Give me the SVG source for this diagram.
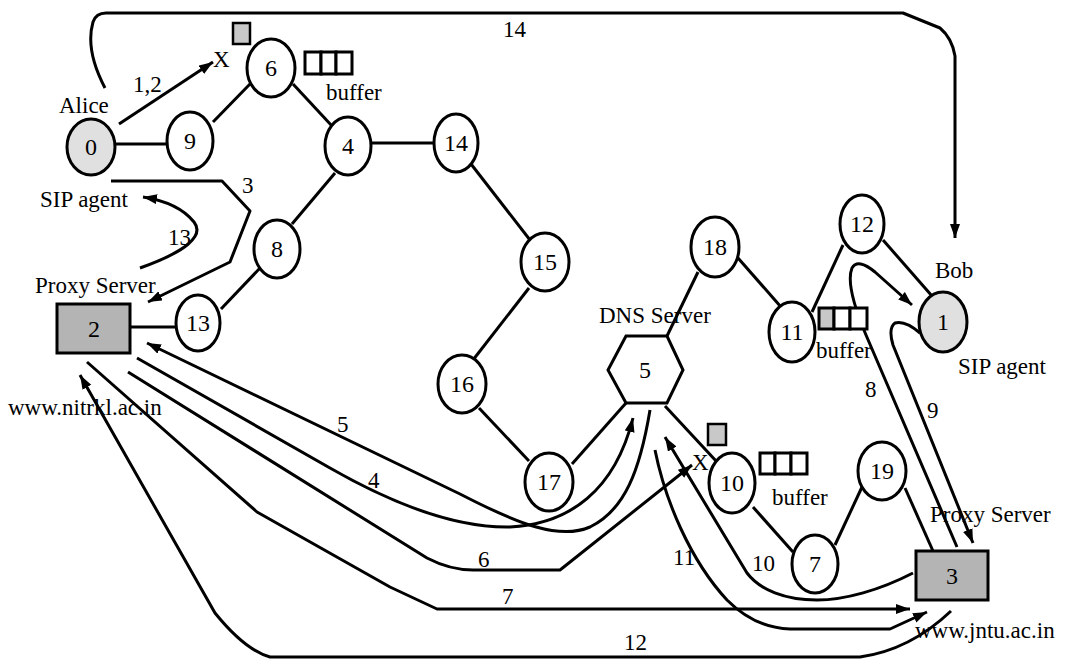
<svg xmlns="http://www.w3.org/2000/svg" width="1066" height="659" viewBox="0 0 1066 659">
  <style>
    .node ellipse, .node rect, .node polygon { stroke: #000; stroke-width: 3; fill: #fff; }
    .node .agent { fill: #e0e0e0; }
    .node .proxy { fill: #b4b4b4; }
    .num { font-family: "Liberation Serif", "Times New Roman", serif; font-size: 24px; text-anchor: middle; fill: #000; }
    .lbl { font-family: "Liberation Serif", "Times New Roman", serif; font-size: 23px; fill: #000; }
    .link { stroke: #000; stroke-width: 3; fill: none; }
    .msg { stroke: #000; stroke-width: 3; fill: none; stroke-linejoin: round; }
    .arr { marker-end: url(#head); }
    .buf rect { fill: #fff; stroke: #000; stroke-width: 3; }
    .pkt { fill: #c8c8c8; stroke: #000; stroke-width: 2.5; }
  </style>
  <defs>
    <marker id="head" markerUnits="userSpaceOnUse" markerWidth="16" markerHeight="12" refX="14" refY="5" orient="auto">
      <path d="M0,0 L14,5 L0,10 z" fill="#000"/>
    </marker>
  </defs>

  <!-- physical links between routers -->
  <g id="links">
    <line class="link" x1="115" y1="144" x2="167" y2="144"/>
    <line class="link" x1="213" y1="122" x2="250" y2="84"/>
    <line class="link" x1="293" y1="84" x2="332" y2="126"/>
    <line class="link" x1="372" y1="143" x2="434" y2="143"/>
    <line class="link" x1="335" y1="173" x2="292" y2="224"/>
    <line class="link" x1="260" y1="268" x2="221" y2="309"/>
    <line class="link" x1="130" y1="327" x2="176" y2="327"/>
    <line class="link" x1="471" y1="164" x2="530" y2="240"/>
    <line class="link" x1="529" y1="288" x2="473" y2="360"/>
    <line class="link" x1="479" y1="408" x2="529" y2="461"/>
    <line class="link" x1="572" y1="464" x2="626" y2="403"/>
    <line class="link" x1="667" y1="336" x2="698" y2="272"/>
    <line class="link" x1="738" y1="258" x2="781" y2="307"/>
    <line class="link" x1="812" y1="312" x2="843" y2="245"/>
    <line class="link" x1="883" y1="240" x2="932" y2="296"/>
    <line class="link" x1="665" y1="406" x2="717" y2="462"/>
    <line class="link" x1="753" y1="507" x2="793" y2="552"/>
    <line class="link" x1="835" y1="545" x2="862" y2="487"/>
    <line class="link" x1="905" y1="488" x2="933" y2="551"/>
  </g>

  <!-- signalling message paths -->
  <g id="connectors">
    <path class="msg arr" d="M119,124 L213,62"/>
    <path class="msg arr" d="M111,181 L222,181 L250,211 L230,262 L148,302"/>
    <path class="msg arr" d="M140,268 C185,252 205,236 194,222 C182,207 162,200 143,197"/>
    <path class="msg arr" d="M105,88 Q85,50 93,22 Q96,13 106,13 L903,13 L940,28 Q952,38 955,56 L955,238"/>
    <path class="msg arr" d="M650,410 C640,470 625,510 590,527 C560,540 520,525 460,494 L147,343"/>
    <path class="msg arr" d="M137,358 L330,468 C400,508 460,528 510,527 C570,524 615,490 633,418"/>
    <path class="msg arr" d="M128,372 L427,558 Q450,570 473,570 L560,570 L692,465"/>
    <path class="msg arr" d="M87,362 L257,512 L390,587 L437,609 L910,609"/>
    <path class="msg arr" d="M913,573 C880,590 845,600 817,600 C785,600 760,590 747,573 L665,437"/>
    <path class="msg arr" d="M655,450 C665,500 690,560 727,600 Q755,628 790,629 L890,629 L927,612"/>
    <path class="msg arr" d="M951,611 Q910,650 860,657 L270,657 Q245,650 215,613 L80,375"/>
    <path class="msg arr" d="M957,547 L866,335 Q845,285 852,268 Q858,258 875,272 L912,305"/>
    <path class="msg arr" d="M920,333 Q905,320 895,323 Q888,328 893,345 L973,543"/>
  </g>

  <!-- nodes -->
  <g id="n0" class="node"><ellipse class="agent" cx="91" cy="147" rx="24" ry="28"/><text class="num" x="91" y="155">0</text></g>
  <g id="n1" class="node"><ellipse class="agent" cx="943" cy="322" rx="24" ry="30"/><text class="num" x="943" y="330">1</text></g>
  <g id="n2" class="node"><rect class="proxy" x="57" y="304" width="73" height="49"/><text class="num" x="94" y="337">2</text></g>
  <g id="n3" class="node"><rect class="proxy" x="916" y="551" width="72" height="49"/><text class="num" x="952" y="584">3</text></g>
  <g id="n4" class="node"><ellipse cx="348" cy="146" rx="23" ry="29"/><text class="num" x="348" y="154">4</text></g>
  <g id="n5" class="node"><polygon points="626,336 667,336 683,370 667,403 626,403 608,370"/><text class="num" x="645" y="378">5</text></g>
  <g id="n6" class="node"><ellipse cx="271" cy="68" rx="24" ry="29"/><text class="num" x="271" y="76">6</text></g>
  <g id="n7" class="node"><ellipse cx="815" cy="564" rx="23" ry="29"/><text class="num" x="815" y="572">7</text></g>
  <g id="n8" class="node"><ellipse cx="277" cy="249" rx="23" ry="29"/><text class="num" x="277" y="257">8</text></g>
  <g id="n9" class="node"><ellipse cx="190" cy="141" rx="23" ry="29"/><text class="num" x="190" y="149">9</text></g>
  <g id="n10" class="node"><ellipse cx="732" cy="483" rx="23" ry="30"/><text class="num" x="732" y="491">10</text></g>
  <g id="n11" class="node"><ellipse cx="792" cy="332" rx="23" ry="30"/><text class="num" x="792" y="340">11</text></g>
  <g id="n12" class="node"><ellipse cx="862" cy="224" rx="22" ry="29"/><text class="num" x="862" y="232">12</text></g>
  <g id="n13" class="node"><ellipse cx="198" cy="323" rx="22" ry="28"/><text class="num" x="198" y="331">13</text></g>
  <g id="n14" class="node"><ellipse cx="456" cy="143" rx="22" ry="29"/><text class="num" x="456" y="151">14</text></g>
  <g id="n15" class="node"><ellipse cx="545" cy="262" rx="24" ry="29"/><text class="num" x="545" y="270">15</text></g>
  <g id="n16" class="node"><ellipse cx="462" cy="384" rx="24" ry="29"/><text class="num" x="462" y="392">16</text></g>
  <g id="n17" class="node"><ellipse cx="549" cy="482" rx="24" ry="29"/><text class="num" x="549" y="490">17</text></g>
  <g id="n18" class="node"><ellipse cx="715" cy="247" rx="24" ry="30"/><text class="num" x="715" y="255">18</text></g>
  <g id="n19" class="node"><ellipse cx="882" cy="471" rx="24" ry="29"/><text class="num" x="882" y="479">19</text></g>

  <!-- router buffers and dropped packets -->
  <g id="buffer6" class="buf">
    <rect x="305" y="52" width="16" height="22"/><rect x="321" y="52" width="15" height="22"/><rect x="336" y="52" width="16" height="22"/>
  </g>
  <g id="buffer11" class="buf">
    <rect x="819" y="308" width="15" height="21" style="fill:#c8c8c8"/><rect x="834" y="308" width="16" height="21"/><rect x="850" y="308" width="17" height="21"/>
  </g>
  <g id="buffer10" class="buf">
    <rect x="760" y="453" width="15" height="21"/><rect x="775" y="453" width="16" height="21"/><rect x="791" y="453" width="16" height="21"/>
  </g>
  <rect class="pkt" x="233" y="23" width="17" height="21"/>
  <rect class="pkt" x="708" y="424" width="18" height="21"/>

  <!-- labels -->
  <g id="labels">
    <text class="lbl" x="59" y="113">Alice</text>
    <text class="lbl" x="40" y="207">SIP agent</text>
    <text class="lbl" x="35" y="293">Proxy Server</text>
    <text class="lbl" x="8" y="415">www.nitrkl.ac.in</text>
    <text class="lbl" x="133" y="92">1,2</text>
    <text class="lbl" x="213" y="67">X</text>
    <text class="lbl" x="326" y="100">buffer</text>
    <text class="lbl" x="242" y="193">3</text>
    <text class="lbl" x="168" y="245">13</text>
    <text class="lbl" x="503" y="37">14</text>
    <text class="lbl" x="599" y="323">DNS Server</text>
    <text class="lbl" x="935" y="278">Bob</text>
    <text class="lbl" x="958" y="374">SIP agent</text>
    <text class="lbl" x="816" y="358">buffer</text>
    <text class="lbl" x="865" y="397">8</text>
    <text class="lbl" x="927" y="418">9</text>
    <text class="lbl" x="337" y="432">5</text>
    <text class="lbl" x="368" y="488">4</text>
    <text class="lbl" x="478" y="567">6</text>
    <text class="lbl" x="502" y="604">7</text>
    <text class="lbl" x="624" y="650">12</text>
    <text class="lbl" x="692" y="470">X</text>
    <text class="lbl" x="772" y="505">buffer</text>
    <text class="lbl" x="673" y="565">11</text>
    <text class="lbl" x="752" y="571">10</text>
    <text class="lbl" x="930" y="522">Proxy Server</text>
    <text class="lbl" x="915" y="638">www.jntu.ac.in</text>
  </g>
</svg>
